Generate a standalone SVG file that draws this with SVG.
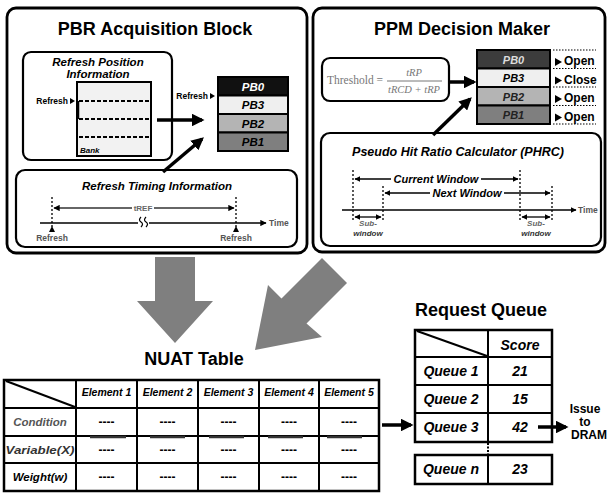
<svg xmlns="http://www.w3.org/2000/svg" width="609" height="494" viewBox="0 0 609 494">
<defs>
<style>
.t{font-family:"Liberation Sans",Arial,sans-serif;font-weight:bold;fill:#000}
.i{font-style:italic}
.m{text-anchor:middle}
.box{fill:#fff;stroke:#000;stroke-width:2.8}
.ibox{fill:#fff;stroke:#000;stroke-width:2.2}
.thick{stroke:#000;stroke-width:3.5;fill:none}
.thin{stroke:#000;stroke-width:1.3;fill:none}
.dash{stroke:#000;stroke-width:1.3;stroke-dasharray:2,2;fill:none}
.bdash{stroke:#000;stroke-width:2;stroke-dasharray:4,2;fill:none}
.big{fill:#7f7f7f}
</style>
<marker id="ah" viewBox="0 0 10 10" refX="8" refY="5" markerWidth="3.6" markerHeight="3.6" orient="auto-start-reverse" markerUnits="strokeWidth"><path d="M0,0 L10,5 L0,10 z" fill="#000"/></marker>
<marker id="sa" viewBox="0 0 10 10" refX="9" refY="5" markerWidth="4.5" markerHeight="4.5" orient="auto-start-reverse" markerUnits="strokeWidth"><path d="M0,0 L10,5 L0,10 z" fill="#000"/></marker>
</defs>

<!-- big gray arrows -->
<g id="gray-arrows">
<polygon class="big" points="155,257 195,257 195,301 213,301 175,343 137,301 155,301"/>
<polygon class="big" points="322,258 347,283 306.5,323.5 322,337 255,350 268,285 281.5,298.5"/>
</g>

<!-- PBR Acquisition Block -->
<g id="pbr-block">
<rect class="box" x="7" y="8" width="300" height="245" rx="9"/>
<text class="t m" x="155" y="35" font-size="18">PBR Acquisition Block</text>
</g>

<g id="refresh-position">
<rect class="ibox" x="23" y="52" width="149" height="108" rx="8"/>
<text class="t i m" x="98" y="66" font-size="11.5">Refresh Position</text>
<text class="t i m" x="98" y="78" font-size="11.5">Information</text>
<rect x="77" y="82" width="74" height="74" fill="#f2f2f2" stroke="#000" stroke-width="2"/>
<line class="bdash" x1="79" y1="101" x2="149" y2="101"/>
<line class="bdash" x1="79" y1="119" x2="149" y2="119"/>
<line class="bdash" x1="79" y1="137" x2="149" y2="137"/>
<line x1="78" y1="101" x2="78" y2="119" stroke="#000" stroke-width="2.5"/>
<text class="t i" x="80" y="153" font-size="8">Bank</text>
<text class="t" x="68" y="104" font-size="8.5" text-anchor="end">Refresh</text>
<polygon points="70,98 75,101 70,104" fill="#000"/>
</g>

<g id="pb-stack-left">
<rect x="218" y="77" width="70" height="18.5" fill="#111" stroke="#000" stroke-width="2"/>
<rect x="218" y="95.5" width="70" height="18.5" fill="#efefef" stroke="#000" stroke-width="2"/>
<rect x="218" y="114" width="70" height="18.5" fill="#b4b4b4" stroke="#000" stroke-width="2"/>
<rect x="218" y="132.5" width="70" height="18.5" fill="#7f7f7f" stroke="#000" stroke-width="2"/>
<text class="t i m" x="253" y="90.5" font-size="11.5" style="fill:#fff">PB0</text>
<text class="t i m" x="253" y="109" font-size="11.5">PB3</text>
<text class="t i m" x="253" y="127.5" font-size="11.5">PB2</text>
<text class="t i m" x="253" y="146" font-size="11.5">PB1</text>
<text class="t" x="208" y="99" font-size="8.5" text-anchor="end">Refresh</text>
<polygon points="210,93 215,96 210,99" fill="#000"/>
</g>

<g id="refresh-timing">
<rect class="ibox" x="16" y="170" width="281" height="77" rx="9"/>
<text class="t i m" x="157" y="190" font-size="11.5">Refresh Timing Information</text>
<line class="dash" x1="52" y1="197" x2="52" y2="229"/>
<line class="dash" x1="236" y1="197" x2="236" y2="229"/>
<line x1="54" y1="208" x2="132" y2="208" stroke="#333" stroke-width="1.4" marker-start="url(#sa)"/>
<line x1="154" y1="208" x2="234" y2="208" stroke="#333" stroke-width="1.4" marker-end="url(#sa)"/>
<text class="t m" x="143" y="211" font-size="8" style="fill:#666">tREF</text>
<line x1="40" y1="223" x2="138" y2="223" stroke="#000" stroke-width="1.4"/>
<line x1="149" y1="223" x2="266" y2="223" stroke="#000" stroke-width="1.4" marker-end="url(#sa)"/>
<path d="M141,217 q-3,3 0,5 q3,2 0,5 M146,217 q-3,3 0,5 q3,2 0,5" stroke="#000" stroke-width="1.2" fill="none"/>
<text class="t" x="269" y="226" font-size="8.5" style="fill:#555">Time</text>
<polygon points="49,232 52,226 55,232" fill="#000"/>
<polygon points="233,232 236,226 239,232" fill="#000"/>
<text class="t m" x="52" y="241" font-size="8.5" style="fill:#555">Refresh</text>
<text class="t m" x="236" y="241" font-size="8.5" style="fill:#555">Refresh</text>
</g>

<!-- PPM Decision Maker -->
<g id="ppm-block">
<rect class="box" x="313" y="8" width="292" height="244" rx="9"/>
<text class="t m" x="462" y="35" font-size="18">PPM Decision Maker</text>
</g>

<g id="threshold">
<rect class="ibox" x="322" y="58" width="127" height="43" rx="8"/>
<text x="327" y="84" font-family="'Liberation Serif','Times New Roman',serif" font-size="11.5" fill="#777">Threshold =</text>
<line x1="387" y1="81" x2="442" y2="81" stroke="#777" stroke-width="1"/>
<text x="414" y="76" font-family="'Liberation Serif','Times New Roman',serif" font-size="10.5" font-style="italic" fill="#777" text-anchor="middle">tRP</text>
<text x="414" y="93" font-family="'Liberation Serif','Times New Roman',serif" font-size="10.5" font-style="italic" fill="#777" text-anchor="middle">tRCD + tRP</text>
</g>

<g id="pb-stack-right">
<rect x="477" y="50" width="73" height="18.5" fill="#3c3c3c" stroke="#000" stroke-width="2"/>
<rect x="477" y="68.5" width="73" height="18.5" fill="#efefef" stroke="#000" stroke-width="2"/>
<rect x="477" y="87" width="73" height="18.5" fill="#b4b4b4" stroke="#000" stroke-width="2"/>
<rect x="477" y="105.5" width="73" height="18.5" fill="#7f7f7f" stroke="#000" stroke-width="2"/>
<text class="t i m" x="513.5" y="63.5" font-size="11" style="fill:#ddd">PB0</text>
<text class="t i m" x="513.5" y="82" font-size="11">PB3</text>
<text class="t i m" x="513.5" y="100.5" font-size="11" style="fill:#222">PB2</text>
<text class="t i m" x="513.5" y="119" font-size="11" style="fill:#222">PB1</text>
<g stroke="#000" stroke-width="1.2" stroke-dasharray="1.5,1.5">
<line x1="553" y1="50" x2="596" y2="50"/>
<line x1="553" y1="68.5" x2="596" y2="68.5"/>
<line x1="553" y1="87" x2="596" y2="87"/>
<line x1="553" y1="105.5" x2="596" y2="105.5"/>
<line x1="553" y1="124" x2="596" y2="124"/>
</g>
<polygon points="555,58 562,62 555,66" fill="#000"/>
<polygon points="555,76.5 562,80.5 555,84.5" fill="#000"/>
<polygon points="555,95 562,99 555,103" fill="#000"/>
<polygon points="555,113.5 562,117.5 555,121.5" fill="#000"/>
<text class="t" x="564" y="65" font-size="12">Open</text>
<text class="t" x="564" y="83.5" font-size="12">Close</text>
<text class="t" x="564" y="102" font-size="12">Open</text>
<text class="t" x="564" y="120.5" font-size="12">Open</text>
</g>

<g id="phrc">
<rect class="ibox" x="321" y="133" width="280" height="113" rx="9"/>
<text class="t i m" x="458" y="156" font-size="12.5">Pseudo Hit Ratio Calculator (PHRC)</text>
<line class="dash" x1="353" y1="170" x2="353" y2="221"/>
<line class="dash" x1="383" y1="186" x2="383" y2="221"/>
<line class="dash" x1="520" y1="170" x2="520" y2="221"/>
<line class="dash" x1="552" y1="186" x2="552" y2="221"/>
<line class="thin" x1="355" y1="179" x2="391" y2="179" marker-start="url(#sa)"/>
<line class="thin" x1="481" y1="179" x2="518" y2="179" marker-end="url(#sa)"/>
<text class="t i m" x="436" y="183" font-size="11">Current Window</text>
<line class="thin" x1="385" y1="193" x2="430" y2="193" marker-start="url(#sa)"/>
<line class="thin" x1="504" y1="193" x2="550" y2="193" marker-end="url(#sa)"/>
<text class="t i m" x="467" y="197" font-size="11">Next Window</text>
<line class="thin" x1="342" y1="210" x2="576" y2="210" marker-end="url(#sa)"/>
<text class="t" x="578" y="213" font-size="8.5" style="fill:#555">Time</text>
<line class="thin" x1="355" y1="217" x2="381" y2="217" marker-start="url(#sa)" marker-end="url(#sa)"/>
<line class="thin" x1="522" y1="217" x2="550" y2="217" marker-start="url(#sa)" marker-end="url(#sa)"/>
<text class="t i m" x="368" y="226" font-size="8" style="fill:#666">Sub-</text>
<text class="t i m" x="368" y="235.5" font-size="8" style="fill:#333">window</text>
<text class="t i m" x="536" y="226" font-size="8" style="fill:#666">Sub-</text>
<text class="t i m" x="536" y="235.5" font-size="8" style="fill:#333">window</text>
</g>

<!-- NUAT table -->
<g id="nuat-table">
<text class="t m" x="194" y="365" font-size="18">NUAT Table</text>
<rect x="4" y="380" width="375" height="111" fill="#fff" stroke="#000" stroke-width="2.5"/>
<g stroke="#000" stroke-width="2">
<line x1="76" y1="380" x2="76" y2="491"/>
<line x1="137" y1="380" x2="137" y2="491"/>
<line x1="198" y1="380" x2="198" y2="491"/>
<line x1="259" y1="380" x2="259" y2="491"/>
<line x1="319" y1="380" x2="319" y2="491"/>
<line x1="4" y1="408" x2="379" y2="408"/>
<line x1="4" y1="436" x2="379" y2="436"/>
<line x1="4" y1="463" x2="379" y2="463"/>
<line x1="6" y1="381" x2="75" y2="407"/>
</g>
<g stroke="#333" stroke-width="2.5">
<line x1="90" y1="437" x2="126" y2="437"/>
<line x1="150" y1="437" x2="185" y2="437"/>
<line x1="209" y1="437" x2="244" y2="437"/>
<line x1="268" y1="437" x2="303" y2="437"/>
<line x1="327" y1="437" x2="362" y2="437"/>
</g>
<text class="t i m" x="106.5" y="396" font-size="10.5">Element 1</text>
<text class="t i m" x="167.5" y="396" font-size="10.5">Element 2</text>
<text class="t i m" x="228.5" y="396" font-size="10.5">Element 3</text>
<text class="t i m" x="289" y="396" font-size="10.5">Element 4</text>
<text class="t i m" x="349" y="396" font-size="10.5">Element 5</text>
<text class="t i m" x="40" y="426" font-size="11.5" style="fill:#555">Condition</text>
<text class="t i m" x="40" y="454" font-size="11.5" textLength="69" lengthAdjust="spacingAndGlyphs" style="fill:#333">Variable(X)</text>
<text class="t i m" x="40" y="481" font-size="11.5">Weight(w)</text>
<g class="t m" font-size="12">
<text x="106.5" y="426">----</text><text x="167.5" y="426">----</text><text x="228.5" y="426">----</text><text x="289" y="426">----</text><text x="349" y="426">----</text>
<text x="106.5" y="454">----</text><text x="167.5" y="454">----</text><text x="228.5" y="454">----</text><text x="289" y="454">----</text><text x="349" y="454">----</text>
<text x="106.5" y="481">----</text><text x="167.5" y="481">----</text><text x="228.5" y="481">----</text><text x="289" y="481">----</text><text x="349" y="481">----</text>
</g>
</g>

<!-- Request Queue -->
<g id="request-queue">
<text class="t m" x="481" y="316" font-size="18">Request Queue</text>
<rect x="415" y="330" width="137" height="112" fill="#fff" stroke="#000" stroke-width="2.5"/>
<g stroke="#000" stroke-width="2">
<line x1="488" y1="330" x2="488" y2="442"/>
<line x1="415" y1="357" x2="552" y2="357"/>
<line x1="415" y1="385" x2="552" y2="385"/>
<line x1="415" y1="413" x2="552" y2="413"/>
<line x1="417" y1="331" x2="487" y2="356"/>
</g>
<line x1="488" y1="443" x2="488" y2="454" stroke="#000" stroke-width="2" stroke-dasharray="2,1.5"/>
<rect x="415" y="455" width="137" height="29" fill="#fff" stroke="#000" stroke-width="2.5"/>
<line x1="488" y1="455" x2="488" y2="484" stroke="#000" stroke-width="2"/>
<text class="t i m" x="520" y="350" font-size="14">Score</text>
<text class="t i m" x="451" y="376" font-size="14">Queue 1</text>
<text class="t i m" x="520" y="376" font-size="14">21</text>
<text class="t i m" x="451" y="404" font-size="14">Queue 2</text>
<text class="t i m" x="520" y="404" font-size="14">15</text>
<text class="t i m" x="451" y="432" font-size="14">Queue 3</text>
<text class="t i m" x="520" y="432" font-size="14">42</text>
<text class="t i m" x="451" y="474" font-size="14">Queue n</text>
<text class="t i m" x="520" y="474" font-size="14">23</text>
</g>

<g id="issue-label">
<text class="t m" x="585" y="413" font-size="12">Issue</text>
<text class="t m" x="585" y="426" font-size="12">to</text>
<text class="t m" x="589" y="439" font-size="12">DRAM</text>
</g>

<!-- connectors -->
<g id="connectors">
<line class="thick" x1="157" y1="120" x2="202" y2="120" marker-end="url(#ah)"/>
<line class="thick" x1="163" y1="172" x2="202" y2="139" marker-end="url(#ah)"/>
<line class="thick" x1="449" y1="82" x2="474" y2="82" marker-end="url(#ah)"/>
<line class="thick" x1="433" y1="135" x2="470" y2="99" marker-end="url(#ah)"/>
<line class="thick" x1="382" y1="425" x2="411" y2="425" marker-end="url(#ah)"/>
<line class="thick" x1="538" y1="427" x2="566" y2="427" marker-end="url(#ah)"/>
</g>
</svg>
